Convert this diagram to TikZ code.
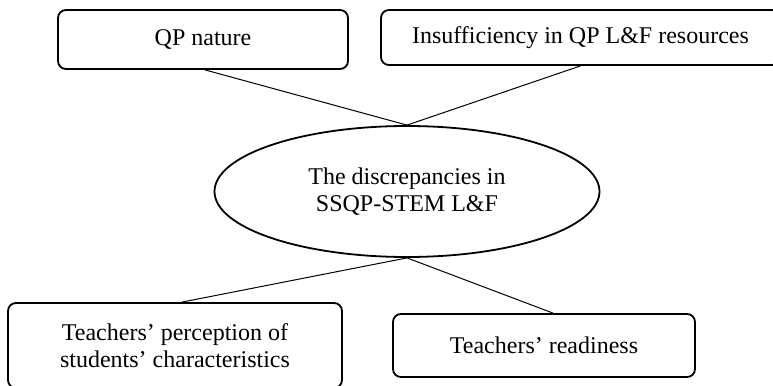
\documentclass[tikz,border=0pt,12pt]{standalone}
\usepackage{fontspec}
\setmainfont{Liberation Serif}
\usetikzlibrary{shapes.geometric,calc}

\begin{document}
\begin{tikzpicture}[x=0.5pt,y=-0.5pt,
factor/.style={draw,rounded corners=4pt,line width=0.9pt,align=center,
  inner sep=0pt,font=\fontsize{12}{13.5}\selectfont},
core/.style={draw,ellipse,line width=0.9pt,align=center,inner sep=0pt,
  font=\fontsize{12}{13.5}\selectfont},
link/.style={line width=0.5pt}]
\useasboundingbox (0,0) rectangle (773,386);
\clip (0,0) rectangle (773,386);
% outer factors
\node[factor,minimum width=145pt,minimum height=29.5pt] (qp) at (203,39.5) {QP nature};
\node[factor,minimum width=199.5pt,minimum height=27.5pt] (insuf) at (580.5,37.5)
  {Insufficiency in QP L\&F resources};
% centre
\node[core,minimum width=192.5pt,minimum height=65.5pt] (discr) at (407,191.5)
  {\raisebox{-1pt}{The discrepancies in}\\\raisebox{-1pt}{SSQP-STEM L\&F}};
% teacher factors
\node[factor,minimum width=167pt,minimum height=42.5pt] (percep) at (175,345.5)
  {\raisebox{-1pt}{Teachers' perception of}\\\raisebox{-1pt}{students' characteristics}};
\node[factor,minimum width=151pt,minimum height=31.5pt] (ready) at (544,345.5)
  {Teachers' readiness};
\draw[link] ([xshift=1pt]qp.south) -- (discr.north);
\draw[link] (insuf.south) -- (discr.north);
\draw[link] (discr.south) -- ([xshift=3.5pt]percep.north);
\draw[link] (discr.south) -- ([xshift=4.5pt]ready.north);
\end{tikzpicture}
\end{document}
